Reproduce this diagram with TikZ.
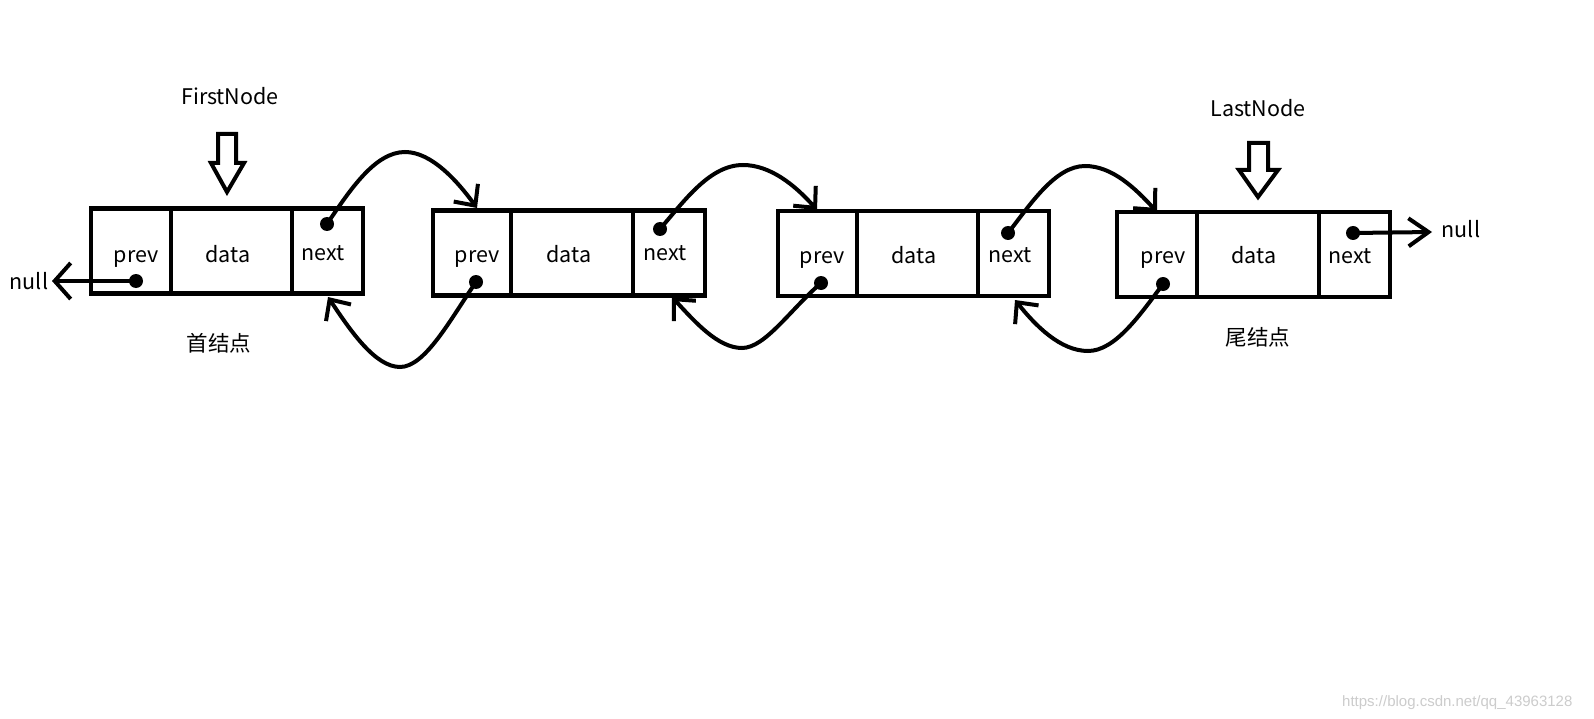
\documentclass[tikz,border=0pt]{standalone}
\usepackage{fontspec}
\setmainfont{Noto Sans CJK SC}
\newfontfamily\wmfont{Liberation Sans}
\usetikzlibrary{arrows.meta}
\begin{document}
\begin{tikzpicture}[x=1pt,y=-1pt,
  cell/.style={draw, line width=4.2pt, inner sep=0pt, outer sep=0pt, minimum height=85pt},
  lbl/.style={anchor=base, inner sep=0pt, font=\fontsize{21.5}{25}\selectfont},
  dot/.style={circle, fill, inner sep=0pt, minimum size=14pt},
  link/.style={line width=4pt, line cap=round, -{Straight Barb[length=16pt,width=30pt]}},
  hollow/.style={draw, line width=4pt, line join=miter},
  wm/.style={anchor=base west, inner sep=0pt, text=black!20, font=\wmfont\fontsize{15}{18}\selectfont}
]
\fill[white] (0,0) rectangle (1594,719);
\useasboundingbox (0,0) rectangle (1594,719);

% ---- list element 1
\node[cell, minimum width=80pt]  (p1) at (131,251) {};
\node[cell, minimum width=121pt] (d1) at (231.5,251) {};
\node[cell, minimum width=71pt]  (x1) at (327.5,251) {};
\node[lbl] (p1t) at (136,262) {prev};
\node[lbl] (d1t) at (228,262) {data};
\node[lbl] (x1t) at (323,260) {next};

% ---- list element 2
\node[cell, minimum width=78pt]  (p2) at (472,253) {};
\node[cell, minimum width=122pt] (d2) at (572,253) {};
\node[cell, minimum width=72pt]  (x2) at (669,253) {};
\node[lbl] (p2t) at (477,262) {prev};
\node[lbl] (d2t) at (569,262) {data};
\node[lbl] (x2t) at (665,261) {next};

% ---- list element 3
\node[cell, minimum width=79pt]  (p3) at (817.5,253.5) {};
\node[cell, minimum width=121pt] (d3) at (917.5,253.5) {};
\node[cell, minimum width=71pt]  (x3) at (1013.5,253.5) {};
\node[lbl] (p3t) at (822,263) {prev};
\node[lbl] (d3t) at (914,263) {data};
\node[lbl] (x3t) at (1010,262) {next};

% ---- list element 4
\node[cell, minimum width=80pt]  (p4) at (1157,254.5) {};
\node[cell, minimum width=122pt] (d4) at (1258,254.5) {};
\node[cell, minimum width=71pt]  (x4) at (1354.5,254.5) {};
\node[lbl] (p4t) at (1163,263) {prev};
\node[lbl] (d4t) at (1254,263) {data};
\node[lbl] (x4t) at (1350,263) {next};

% ---- pointer dots
\node[dot] (p1d) at (136,281) {};
\node[dot] (x1d) at (327,224) {};
\node[dot] (p2d) at (476,282) {};
\node[dot] (x2d) at (660,229) {};
\node[dot] (p3d) at (821,283) {};
\node[dot] (x3d) at (1008,233) {};
\node[dot] (p4d) at (1163,284) {};
\node[dot] (x4d) at (1353,233) {};

% ---- arrow end points
\coordinate (in2) at (477,208);
\coordinate (in3) at (817,210);
\coordinate (in4) at (1157,212);
\coordinate (bk1) at (328,297);
\coordinate (bk2) at (672,297);
\coordinate (bk3) at (1015,300);
\coordinate (nl) at (52,281);
\coordinate (nr) at (1432,232);

% ---- labels
\node[lbl] (nullL) at (29,289) {null};
\node[lbl] (nullR) at (1461,238) {null};
\node[lbl] (first) at (230,105) {FirstNode};
\node[lbl] (last) at (1258,117) {LastNode};
\node[lbl] (head) at (219,351) {首结点};
\node[lbl] (tail) at (1258,345) {尾结点};

% ---- hollow pointer arrows
\draw[hollow] (218,134) -- (236,134) -- (236,163) -- (244,163) -- (227,192) -- (211,163) -- (218,163) -- cycle;
\draw[hollow] (1249,143) -- (1268,143) -- (1268,170) -- (1278,170) -- (1258,197) -- (1239,170) -- (1249,170) -- cycle;

% ---- null pointers
\draw[link, -{Straight Barb[length=16pt,width=36pt]}] (p1d.center) -- (nl);
\draw[link, -{Straight Barb[length=20pt,width=28pt]}] (x4d.center) -- (nr);

% ---- next links
\draw[link] (x1d.center) .. controls (350,190) and (375,152) .. (405,152) .. controls (432,152) and (458,182) .. (in2);
\draw[link] (x2d.center) .. controls (685,200) and (710,165) .. (743,165) .. controls (770,165) and (795,185) .. (in3);
\draw[link] (x3d.center) .. controls (1030,205) and (1055,166) .. (1085,166) .. controls (1112,166) and (1135,188) .. (in4);

% ---- prev links
\draw[link] (p2d.center) .. controls (450,320) and (425,367) .. (400,367) .. controls (375,367) and (350,330) .. (bk1);
\draw[link] (p3d.center) .. controls (790,310) and (765,348) .. (742,348) .. controls (718,348) and (695,322) .. (bk2);
\draw[link] (p4d.center) .. controls (1140,315) and (1115,351) .. (1088,351) .. controls (1060,351) and (1035,325) .. (bk3);

% ---- watermark
\node[wm] (mark) at (1342,706) {https://blog.csdn.net/qq\_43963128};
\end{tikzpicture}
\end{document}
